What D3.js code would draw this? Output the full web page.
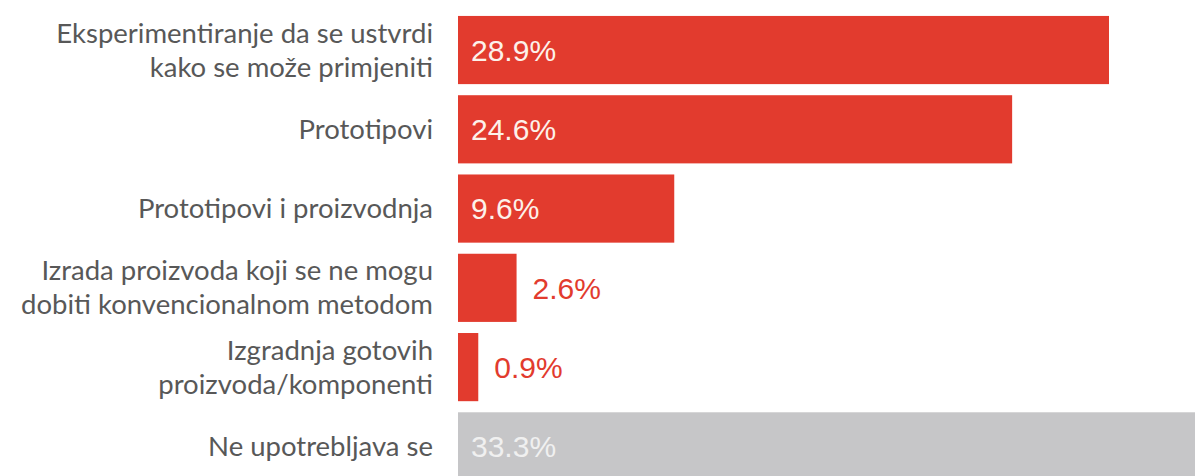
<!DOCTYPE html>
<html>
<head>
<meta charset="utf-8">
<script src="https://cdn.jsdelivr.net/npm/d3@7"></script>
<style>
  html, body { margin: 0; padding: 0; background: #fff; overflow: hidden; }
</style>
</head>
<body>
<div id="chart"></div>
<script>
// category labels, "|" marks a line break
const categories = [
    'Eksperimentiranje da se ustvrdi|kako se može primjeniti',
    'Prototipovi',
    'Prototipovi i proizvodnja',
    'Izrada proizvoda koji se ne mogu|dobiti konvencionalnom metodom',
    'Izgradnja gotovih|proizvoda/komponenti',
    'Ne upotrebljava se'
];
const values = [28.9, 24.6, 9.6, 2.6, 0.9, 33.3];
const usedFlags = [true, true, true, true, true, false];

const width = 1195;
const height = 476;
const barLeft = 458;

const svg = d3.select('#chart')
    .append('svg')
    .attr('width', width)
    .attr('height', height);

const x = d3.scaleLinear()
    .domain([0, 28.9])
    .range([barLeft, 1109]);

const y = d3.scaleBand()
    .domain(categories)
    .range([10, 486.4])
    .paddingInner(0.14)
    .paddingOuter(0.075);

const data = categories.map((c, i) => ({ label: c, value: values[i], used: usedFlags[i] }));

// bars
svg.selectAll('.bar')
    .data(data)
    .join('rect')
    .attr('class', 'bar')
    .attr('x', x(0))
    .attr('y', d => y(d.label))
    .attr('width', d => x(d.value) - x(0))
    .attr('height', y.bandwidth())
    .attr('fill', d => d.used ? '#e23b2e' : '#c6c6c8');

// category labels
const labels = svg.selectAll('.cat-label')
    .data(data)
    .join('text')
    .attr('class', 'cat-label')
    .attr('text-anchor', 'end')
    .attr('fill', '#585858')
    .attr('font-family', 'Lato, sans-serif')
    .attr('font-size', '27.5px')
    .attr('transform', d => `translate(433,${y(d.label) + y.bandwidth() / 2})`);

labels.each(function(d) {
    const lines = d.label.split('|');
    const lineH = 34;
    d3.select(this).selectAll('tspan')
        .data(lines)
        .join('tspan')
        .attr('x', 0)
        .attr('y', (l, i) => (i - (lines.length - 1) / 2) * lineH)
        .attr('dy', '0.35em')
        .text(l => l);
});

// value labels: inside big bars, outside small ones
svg.selectAll('.val-label')
    .data(data)
    .join('text')
    .attr('class', 'val-label')
    .attr('font-family', '"Liberation Sans", Arial, sans-serif')
    .attr('font-size', '30px')
    .attr('dy', '0.36em')
    .attr('x', d => (x(d.value) - x(0) > 100) ? x(0) + 13 : x(d.value) + 16)
    .attr('y', d => y(d.label) + y.bandwidth() / 2)
    .attr('fill', d => {
        if (x(d.value) - x(0) <= 100) return '#e23b2e';
        return d.used ? '#fdf1ea' : '#f0f0f0';
    })
    .text(d => d.value.toFixed(1) + '%');
</script>
</body>
</html>
